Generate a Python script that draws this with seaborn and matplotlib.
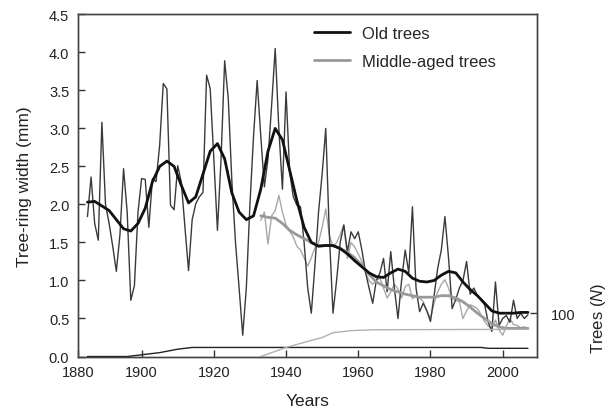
import matplotlib.pyplot as plt
from matplotlib.lines import Line2D
import numpy as np
import pandas as pd
import seaborn as sns

# Old trees, annual tree-ring width (mm), 1885-2007
old_years = list(range(1885, 2008))
old_width = [1.84, 2.36, 1.75, 1.53, 3.08, 2.0, 1.75, 1.45, 1.12, 1.6,
             2.47, 1.9, 0.74, 0.93, 1.9, 2.34, 2.33, 1.70, 2.34, 2.3,
             2.78, 3.59, 3.52, 1.99, 1.93, 2.51, 2.29, 1.7, 1.13, 1.8,
             2.01, 2.1, 2.16, 3.70, 3.52, 2.6, 1.66, 2.6, 3.89, 3.39,
             2.3, 1.5, 0.9, 0.28, 0.9, 2.0, 2.9, 3.63, 2.9, 2.23,
             2.6, 3.3, 4.05, 3.0, 2.2, 3.48, 2.43, 2.1, 1.99, 1.97,
             1.5, 0.9, 0.57, 1.2, 1.9, 2.4, 3.0, 1.6, 0.57, 1.0,
             1.5, 1.73, 1.38, 1.64, 1.55, 1.64, 1.4, 1.11, 0.9, 0.70,
             1.0, 1.1, 1.29, 0.85, 1.38, 0.9, 0.5, 1.0, 1.4, 1.1,
             1.97, 0.9, 0.59, 0.7, 0.6, 0.46, 0.8, 1.16, 1.4, 1.84,
             1.3, 0.63, 0.75, 0.9, 1.0, 1.25, 0.82, 0.9, 0.8, 0.75,
             0.68, 0.45, 0.33, 0.98, 0.41, 0.5, 0.54, 0.45, 0.74, 0.5,
             0.57, 0.5, 0.55]

# Middle-aged trees, annual, 1933-2007
mid_years = list(range(1933, 2008))
mid_width = [1.79, 1.9, 1.48, 1.85, 1.92, 2.12, 1.9, 1.73, 1.65, 1.57,
             1.45, 1.4, 1.3, 1.19, 1.3, 1.43, 1.5, 1.7, 1.94, 1.6,
             1.44, 1.5, 1.6, 1.73, 1.29, 1.5, 1.44, 1.35, 1.25, 1.1,
             1.0, 0.95, 1.0, 1.03, 0.9, 0.77, 0.85, 0.95, 0.89, 0.77,
             0.92, 0.95, 0.76, 0.8, 0.77, 0.72, 0.6, 0.5, 0.7, 0.85,
             0.95, 1.01, 0.9, 0.76, 0.74, 0.72, 0.5, 0.6, 0.68, 0.66,
             0.63, 0.55, 0.46, 0.4, 0.37, 0.48, 0.35, 0.28, 0.4, 0.5,
             0.42, 0.41, 0.38, 0.39, 0.37]

# Smoothed curves
old_smooth_years = list(range(1885, 2008, 2))
old_smooth = [2.03, 2.04, 1.98, 1.92, 1.8, 1.68, 1.65, 1.75, 1.95, 2.3,
              2.5, 2.57, 2.5, 2.25, 2.02, 2.1, 2.4, 2.7, 2.8, 2.6,
              2.15, 1.9, 1.8, 1.85, 2.2, 2.7, 3.0, 2.85, 2.45, 2.05,
              1.7, 1.5, 1.45, 1.46, 1.46, 1.42, 1.35, 1.26, 1.18, 1.1,
              1.05, 1.04, 1.1, 1.15, 1.12, 1.03, 0.99, 0.98, 1.0, 1.07,
              1.12, 1.1, 0.98, 0.88, 0.8, 0.7, 0.6, 0.57, 0.57, 0.57,
              0.58, 0.58]
mid_smooth_years = list(range(1933, 2008, 2))
mid_smooth = [1.85, 1.83, 1.82, 1.75, 1.66, 1.6, 1.55, 1.5, 1.46, 1.46,
              1.46, 1.42, 1.37, 1.3, 1.2, 1.08, 0.98, 0.93, 0.88, 0.85,
              0.82, 0.8, 0.78, 0.78, 0.78, 0.8, 0.8, 0.77, 0.72, 0.65,
              0.57, 0.5, 0.43, 0.39, 0.37, 0.37, 0.37, 0.37]

# Sample depth (number of trees)
old_n_years = [1885, 1896, 1900, 1905, 1910, 1914, 1994, 1996, 2007]
old_n = [0, 0, 4, 9, 17, 21, 21, 19, 19]
mid_n_years = [1933, 1940, 1946, 1950, 1953, 1958, 1965, 2007]
mid_n = [0, 21, 35, 44, 55, 60, 62, 63]

xtick_pos = [1882.3, 1900, 1920, 1940, 1960, 1980, 2000]
xtick_labels = ['1880', '1900', '1920', '1940', '1960', '1980', '2000']
yticks = [0.0, 0.5, 1.0, 1.5, 2.0, 2.5, 3.0, 3.5, 4.0, 4.5]

sns.set_style('ticks')
plt.rcParams['font.family'] = ['Liberation Sans', 'DejaVu Sans']
plt.rcParams['mathtext.fontset'] = 'custom'
plt.rcParams['mathtext.rm'] = 'Liberation Sans'
plt.rcParams['mathtext.it'] = 'Liberation Sans:italic'
plt.rcParams['xtick.direction'] = 'in'
plt.rcParams['ytick.direction'] = 'in'

fig = plt.figure(figsize=(6.08, 4.10), dpi=100)
ax = fig.add_axes([0.1278, 0.128, 0.756, 0.8346])
ax2 = ax.twinx()

old_df = pd.DataFrame({'year': old_years, 'width': old_width})
mid_df = pd.DataFrame({'year': mid_years, 'width': mid_width})
old_s_df = pd.DataFrame({'year': old_smooth_years, 'width': old_smooth})
mid_s_df = pd.DataFrame({'year': mid_smooth_years, 'width': mid_smooth})

# sample depth on the right axis
sns.lineplot(x=old_n_years, y=old_n, ax=ax2, color='#222222', linewidth=1.0)
sns.lineplot(x=mid_n_years, y=mid_n, ax=ax2, color='#b0b0b0', linewidth=1.0)

sns.lineplot(data=mid_df, x='year', y='width', ax=ax, color='#a8a8a8', linewidth=1.0)
sns.lineplot(data=old_df, x='year', y='width', ax=ax, color='#3a3a3a', linewidth=1.0)
sns.lineplot(data=mid_s_df, x='year', y='width', ax=ax, color='#999999', linewidth=2.0)
sns.lineplot(data=old_s_df, x='year', y='width', ax=ax, color='#111111', linewidth=2.0)

ax.set_xlim(1882.3, 2009.6)
ax.set_ylim(0, 4.5)
ax.set_xticks(xtick_pos)
ax.set_xticklabels(xtick_labels)
ax.set_yticks(yticks)
ax.set_yticklabels([f'{v:.1f}' for v in yticks])
ax.tick_params(length=5, width=1, colors='#333333', labelsize=10.5, labelcolor='#222222', pad=6)
ax.set_xlabel('Years', fontsize=12.5, color='#222222', labelpad=10)
ax.set_ylabel('Tree-ring width (mm)', fontsize=12.5, color='#222222', labelpad=12)

ax2.set_ylim(0, 4.5 / 0.568 * 100)
ax2.set_yticks([100])
ax2.set_yticklabels(['100'])
ax2.tick_params(length=5, width=1, colors='#333333', labelsize=10.5, labelcolor='#222222', pad=10)
ax2.set_ylabel('Trees ($\\mathit{N}$)', fontsize=12, color='#222222')
ax2.yaxis.set_label_coords(1.112, 0.115)

for a in (ax, ax2):
    for s in a.spines.values():
        s.set_visible(True)
        s.set_color('#444444')
        s.set_linewidth(1.0)

handles = [Line2D([], [], color='#111111', linewidth=2.0),
           Line2D([], [], color='#999999', linewidth=2.0)]
ax.legend(handles, ['Old trees', 'Middle-aged trees'], loc='upper left',
          bbox_to_anchor=(0.495, 0.99), frameon=False, fontsize=12,
          handlelength=2.2, handletextpad=0.7, borderpad=0, labelspacing=0.75)

fig.savefig('out.png', dpi=100)
